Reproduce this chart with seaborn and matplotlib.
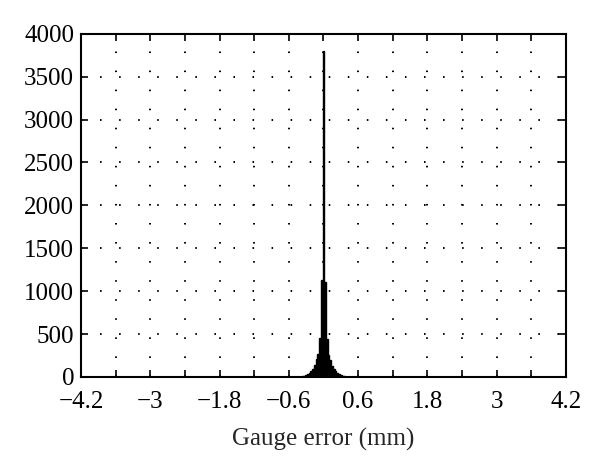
import numpy as np
import pandas as pd
import matplotlib
matplotlib.use("Agg")
import matplotlib.pyplot as plt
import seaborn as sns

# Histogram data (bin centres in mm, counts)
bin_width = 0.03
bin_centers = [-0.42, -0.39, -0.36, -0.33, -0.30, -0.27, -0.24, -0.21, -0.18, -0.15,
               -0.12, -0.09, -0.06, -0.03,
               0.00,
               0.03, 0.06, 0.09, 0.12, 0.15, 0.18, 0.21, 0.24, 0.27, 0.30,
               0.33, 0.36, 0.39, 0.42]
counts = [3, 5, 8, 13, 20, 32, 48, 72, 95, 135, 205, 265, 450, 1130,
          3800,
          1110, 440, 255, 195, 125, 88, 66, 44, 30, 19, 12, 8, 5, 3]

x_ticks = [-4.2, -3.6, -3.0, -2.4, -1.8, -1.2, -0.6, 0.0, 0.6, 1.2, 1.8, 2.4, 3.0, 3.6, 4.2]
x_labels = ["\u22124.2", "", "\u22123", "", "\u22121.8", "", "\u22120.6", "", "0.6", "", "1.8", "", "3", "", "4.2"]
y_ticks = [0, 500, 1000, 1500, 2000, 2500, 3000, 3500, 4000]
x_label = "Gauge error (mm)"

sns.set_style("ticks")
plt.rcParams["font.family"] = ["Liberation Serif", "DejaVu Serif"]

fig = plt.figure(figsize=(6.0, 4.76), dpi=100)
ax = fig.add_axes([0.135, 0.208, 0.808, 0.721])

df = pd.DataFrame({"error": bin_centers, "count": counts})
n_bins = int(round(8.4 / bin_width))
edges = [round(-4.2 - bin_width / 2 + i * bin_width, 4) for i in range(n_bins + 2)]
sns.histplot(data=df, x="error", weights="count", bins=edges, color="black",
             edgecolor="black", linewidth=1.0, alpha=1.0, ax=ax, zorder=3)

ax.set_xlim(-4.2, 4.2)
ax.set_ylim(0, 4000)
ax.set_xticks(x_ticks)
ax.set_xticklabels(x_labels)
ax.set_yticks(y_ticks)
ax.set_yticklabels([str(v) for v in y_ticks])
ax.set_xlabel(x_label, fontsize=18, labelpad=11)
ax.set_ylabel("")

ax.grid(True, color="black", linestyle=(0, (0.8, 9)), linewidth=1.4)
ax.set_axisbelow(True)
for s in ax.spines.values():
    s.set_visible(True)
    s.set_linewidth(1.5)
    s.set_color("black")
ax.tick_params(direction="in", length=5, width=1.2, top=True, right=True,
               labelsize=18, colors="black")
ax.tick_params(axis="x", pad=10)
ax.tick_params(axis="y", pad=5)

fig.savefig("out.png", dpi=100, facecolor="white")
